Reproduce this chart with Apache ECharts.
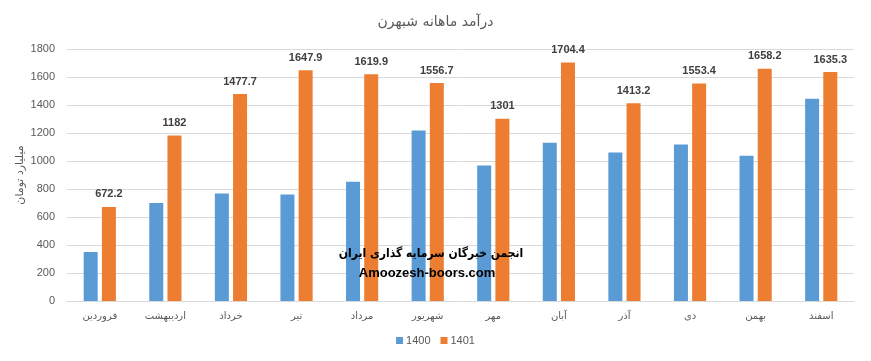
<!DOCTYPE html>
<html>
<head>
<meta charset="utf-8">
<script src="https://cdn.jsdelivr.net/npm/echarts@6/dist/echarts.min.js"></script>
<style>
html,body{margin:0;padding:0;background:#fff;}
#c{width:871px;height:361px;}
</style>
</head>
<body>
<div id="c"></div>
<script>
var titleText = 'درآمد ماهانه شبهرن';
var yAxisName = 'میلیارد تومان';
var categories = ['فروردین','اردیبهشت','خرداد','تیر','مرداد','شهریور','مهر','آبان','آذر','دی','بهمن','اسفند'];
var seriesNames = ['1400','1401'];
var values1400 = [350, 700, 767, 760, 852, 1217, 967, 1131, 1060, 1117, 1038, 1445];
var values1401 = [672.2, 1182, 1477.7, 1647.9, 1619.9, 1556.7, 1301, 1704.4, 1413.2, 1553.4, 1658.2, 1635.3];
var watermark1 = 'انجمن خبرگان سرمایه گذاری ایران';
var watermark2 = 'Amoozesh-boors.com';

var chart = echarts.init(document.getElementById('c'), null, {renderer:'canvas'});
var gray = '#595959';
var faFont = '"DejaVu Sans", "Noto Sans", sans-serif';
var numFont = '"Liberation Sans", Arial, sans-serif';
chart.setOption({
  animation: false,
  backgroundColor: '#ffffff',
  title: {
    text: titleText, left: 'center', top: 10,
    textStyle: {fontFamily: faFont, fontSize: 14, fontWeight: 'normal', color: gray}
  },
  legend: {
    data: seriesNames, bottom: 10, left: 'center',
    icon: 'rect', itemWidth: 7, itemHeight: 7, itemGap: 10,
    textStyle: {fontFamily: numFont, fontSize: 11, color: gray, padding: [0,0,0,-2]}
  },
  grid: {left: 67, right: 17, top: 49, bottom: 60, containLabel: false},
  xAxis: {
    type: 'category', data: categories,
    axisLine: {lineStyle: {color: '#D9D9D9'}},
    axisTick: {show: false},
    axisLabel: {fontFamily: faFont, fontSize: 10, color: gray, margin: 10}
  },
  yAxis: {
    type: 'value', min: 0, max: 1800, interval: 200,
    name: yAxisName, nameLocation: 'middle', nameGap: 41, nameRotate: 90,
    nameMoveOverlap: false,
    nameTextStyle: {fontFamily: faFont, fontSize: 11, color: gray},
    axisLine: {show: false}, axisTick: {show: false},
    axisLabel: {fontFamily: numFont, fontSize: 11, color: gray, margin: 12,
      formatter: function (v) { return String(v); }},
    splitLine: {lineStyle: {color: '#D9D9D9'}}
  },
  series: [
    {
      name: seriesNames[0], type: 'bar', data: values1400,
      barWidth: 14, barGap: '30%',
      itemStyle: {color: '#5B9BD5'}
    },
    {
      name: seriesNames[1], type: 'bar', data: values1401,
      barWidth: 14, barGap: '30%',
      itemStyle: {color: '#ED7D31'},
      label: {
        show: true, position: 'top', distance: 7,
        fontFamily: numFont, fontSize: 11, fontWeight: 'bold', color: '#404040'
      }
    }
  ],
  graphic: [
    {
      type: 'text', x: 431, y: 254, z: 100,
      style: {text: watermark1, font: 'bold 12px "DejaVu Sans Condensed", "DejaVu Sans", sans-serif', fill: '#000', align: 'center', verticalAlign: 'middle'}
    },
    {
      type: 'text', x: 427, y: 273, z: 100,
      style: {text: watermark2, font: 'bold 13px "Liberation Sans", Arial, sans-serif', fill: '#000', align: 'center', verticalAlign: 'middle'}
    }
  ]
});
</script>
</body>
</html>
